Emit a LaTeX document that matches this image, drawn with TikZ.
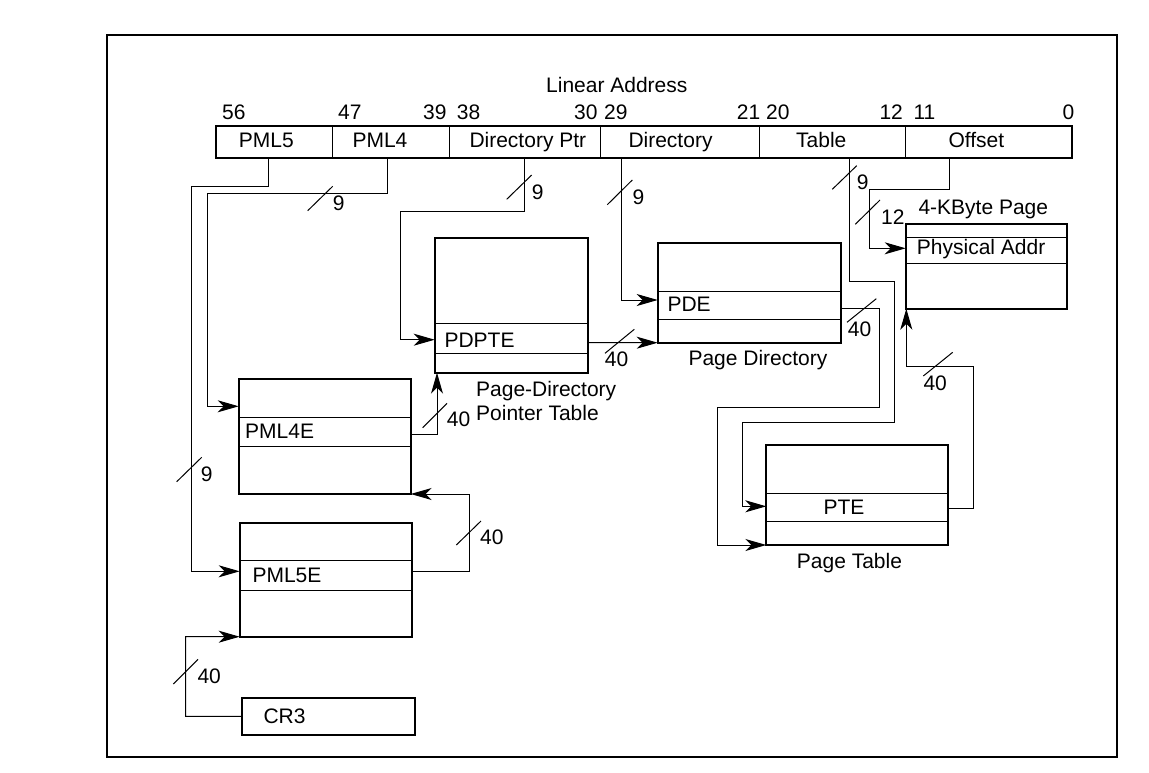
\documentclass[tikz,border=0pt]{standalone}
\usepackage{fontspec}
\setmainfont{Liberation Sans}
\usetikzlibrary{arrows.meta}
\begin{document}
\begin{tikzpicture}[x=1pt,y=-1pt,
  font=\fontsize{21}{25}\selectfont,
  tbox/.style={draw, line width=2.2pt, inner sep=0pt, outer sep=0pt, anchor=north west},
  erow/.style={draw, line width=0.9pt, inner sep=0pt, outer sep=0pt, anchor=north west},
  lbl/.style={anchor=base west, inner sep=0pt},
  wire/.style={line width=1pt},
  arr/.style={wire, -{Stealth[length=21pt,width=12pt,inset=6pt]}},
  slash/.style={line width=1pt}]
\useasboundingbox (0,0) rectangle (1149,772);
\draw[line width=2pt] (107,35) rectangle (1117,757);

% linear address bar
\node[tbox, minimum width=856pt, minimum height=32.6pt] (bar) at (216,125.7) {};
\foreach \xx in {332.3,449.3,600.3,759.3,905.3}
  \draw[wire] (\xx,125.7) -- (\xx,158.3);
\node[lbl] (la) at (546,92) {Linear Address};
\node[lbl] (n56) at (222,119) {56};
\node[lbl] (n47) at (338,119) {47};
\node[lbl] (n39) at (423,119) {39};
\node[lbl] (n38) at (456.7,119) {38};
\node[lbl] (n30) at (574,119) {30};
\node[lbl] (n29) at (604,119) {29};
\node[lbl] (n21) at (736.7,119) {21};
\node[lbl] (n20) at (766,119) {20};
\node[lbl] (n12) at (879.3,119) {12};
\node[lbl] (n11) at (913.3,119) {11};
\node[lbl] (n0) at (1062.3,119) {0};
\node[lbl] (fa) at (238.7,147.3) {PML5};
\node[lbl] (fb) at (352.3,147.3) {PML4};
\node[lbl] (fc) at (469.3,147.3) {Directory Ptr};
\node[lbl] (fd) at (628.3,147.3) {Directory};
\node[lbl] (fe) at (796,147.3) {Table};
\node[lbl] (ff) at (948.3,147.3) {Offset};
\coordinate (oa) at (268.3,158.3);
\coordinate (ob) at (387.3,158.3);
\coordinate (oc) at (524.3,158.3);
\coordinate (od) at (621.3,158.3);
\coordinate (oe) at (849.3,158.3);
\coordinate (of) at (949.3,158.3);

% tables
\node[tbox, minimum width=172pt, minimum height=115pt] (pml4) at (238.7,379) {};
\node[erow, minimum width=172pt, minimum height=29pt] (pml4e) at (238.7,417.3) {};
\node[lbl] (tpml4e) at (245,438.3) {PML4E};

\node[tbox, minimum width=172.6pt, minimum height=113.7pt] (pml5) at (239.7,523) {};
\node[erow, minimum width=172.6pt, minimum height=30pt] (pml5e) at (239.7,560.3) {};
\node[lbl] (tpml5e) at (252.3,582.7) {PML5E};

\node[tbox, minimum width=173.6pt, minimum height=37.3pt] (cr3) at (241.7,697.7) {};
\node[lbl] (tcr3) at (263.3,723.3) {CR3};

\node[tbox, minimum width=153.3pt, minimum height=134.4pt] (pdpt) at (434.7,238.3) {};
\node[erow, minimum width=153.3pt, minimum height=29.6pt] (pdpte) at (434.7,323.7) {};
\node[lbl] (tpdpte) at (444.3,347.3) {PDPTE};
\node[lbl] (cpdpt1) at (476,396.7) {Page-Directory};
\node[lbl] (cpdpt2) at (476,420) {Pointer Table};

\node[tbox, minimum width=183pt, minimum height=99.7pt] (pd) at (657.7,243) {};
\node[erow, minimum width=183pt, minimum height=28pt] (pde) at (657.7,291.3) {};
\node[lbl] (tpde) at (667.3,311.7) {PDE};
\node[lbl] (cpd) at (688.3,365) {Page Directory};

\node[tbox, minimum width=182pt, minimum height=100pt] (pt) at (766.3,445) {};
\node[erow, minimum width=182pt, minimum height=27.7pt] (pte) at (766.3,493.3) {};
\node[lbl] (tpte) at (823.3,514.3) {PTE};
\node[lbl] (cpt) at (796.7,568.3) {Page Table};

\node[tbox, minimum width=161.3pt, minimum height=84.7pt] (pg) at (905.7,224) {};
\node[erow, minimum width=161.3pt, minimum height=26pt] (pa) at (905.7,237.3) {};
\node[lbl] (tpa) at (916.7,254.3) {Physical Addr};
\node[lbl] (cpg) at (918.3,214.3) {4-KByte Page};

% connectors
\draw[arr] (oa) -- (268.3,186.3) -- (191.7,186.3) -- (191.7,571.3) -- (pml5.west |- 0,571.3);
\draw[arr] (ob) -- (387.3,193.3) -- (207.7,193.3) -- (207.7,406.3) -- (pml4.west |- 0,406.3);
\draw[arr] (oc) -- (524.3,211.3) -- (400.3,211.3) -- (400.3,339.7) -- (pdpte.west |- 0,339.7);
\draw[arr] (od) -- (621.3,300) -- (pde.west |- 0,300);
\draw[arr] (oe) -- (849.3,281) -- (894.3,281) -- (894.3,422.3) -- (742,422.3) -- (742,506.3) -- (pte.west |- 0,506.3);
\draw[arr] (of) -- (949.3,189) -- (869.3,189) -- (869.3,248.3) -- (pa.west |- 0,248.3);
\draw[arr] (pde.east |- 0,308.3) -- (879.3,308.3) -- (879.3,407.7) -- (717.3,407.7) -- (717.3,545) -- (pt.south west);
\draw[arr] (pte.east |- 0,508.3) -- (973.7,508.3) -- (973.7,366.3) -- (906.3,366.3) -- (pg.south west -| 906.3,0);
\draw[arr] (pdpte.east |- 0,342.7) -- (pd.south west);
\draw[arr] (pml4e.east |- 0,434.3) -- (437,434.3) -- (pdpt.south west -| 437,0);
\draw[arr] (pml5e.east |- 0,571) -- (469.7,571) -- (469.7,494) -- (pml4.south east);
\draw[arr] (cr3.west) -- (185.7,716.35) -- (185.7,636.7) -- (pml5.south west);

% width slashes
\draw[slash] (176.7,481.7) -- (201.7,457.3);
\draw[slash] (307.7,210.7) -- (332.7,186.3);
\draw[slash] (506.7,199.3) -- (531.7,175);
\draw[slash] (607.3,204.7) -- (632.3,180);
\draw[slash] (832.3,189.3) -- (856.7,165.7);
\draw[slash] (855.3,224.3) -- (880,200);
\draw[slash] (847,322.3) -- (876.3,298.7);
\draw[slash] (923.3,376) -- (952.7,352.3);
\draw[slash] (605,353.3) -- (634.3,329.3);
\draw[slash] (422.7,427.7) -- (447,403.3);
\draw[slash] (456.3,545) -- (481,521);
\draw[slash] (173.3,684) -- (198,659.3);

% width labels
\node[lbl] (w1) at (200.7,481.7) {9};
\node[lbl] (w2) at (332.7,210.7) {9};
\node[lbl] (w3) at (531.7,199.3) {9};
\node[lbl] (w4) at (632.3,204) {9};
\node[lbl] (w5) at (856.7,189.3) {9};
\node[lbl] (w6) at (881,224) {12};
\node[lbl] (w7) at (847.7,336.7) {40};
\node[lbl] (w8) at (923.3,390.3) {40};
\node[lbl] (w9) at (604.7,366.7) {40};
\node[lbl] (w10) at (446.7,426.7) {40};
\node[lbl] (w11) at (480,544.3) {40};
\node[lbl] (w12) at (197.3,683.3) {40};
\end{tikzpicture}
\end{document}
